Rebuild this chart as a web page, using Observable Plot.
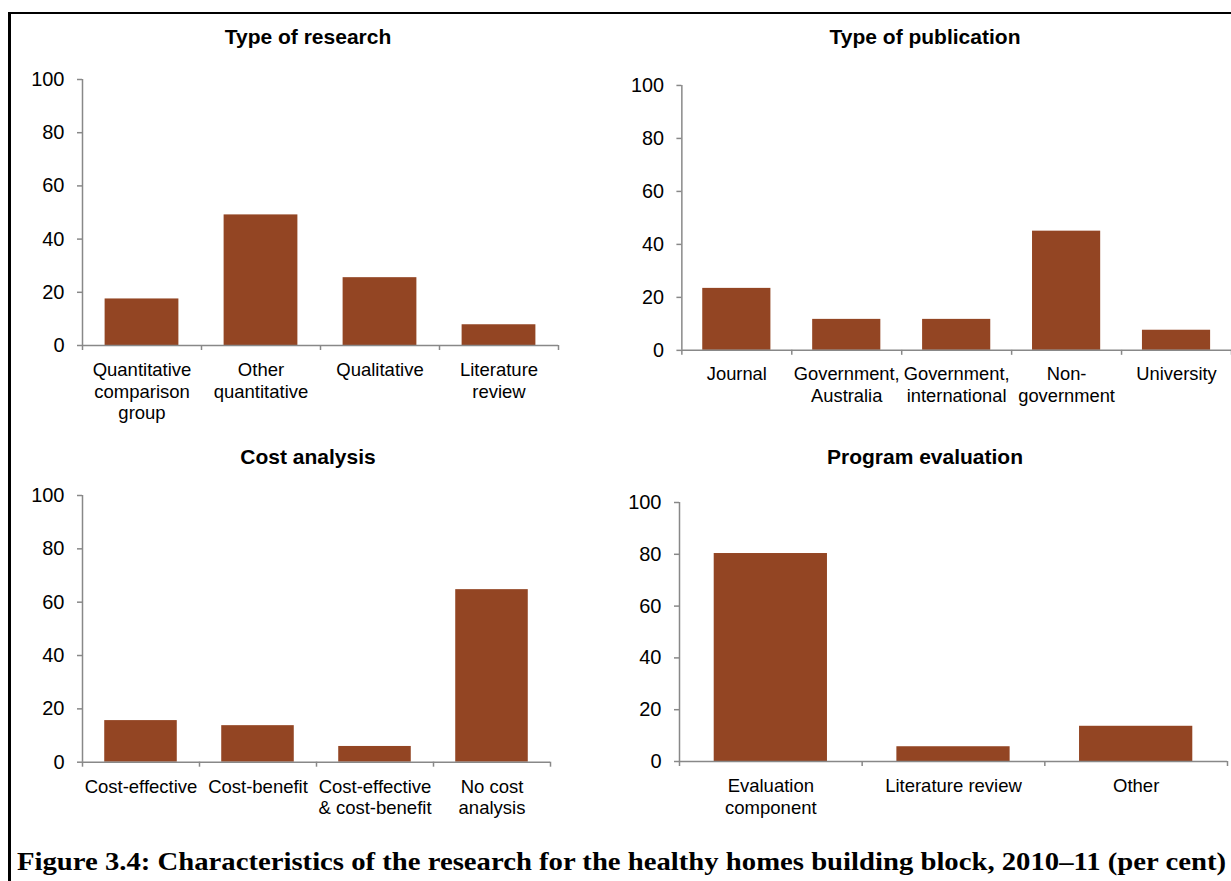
<!DOCTYPE html>
<html>
<head>
<meta charset="utf-8">
<script src="https://cdn.jsdelivr.net/npm/d3@7"></script>
<script src="https://cdn.jsdelivr.net/npm/@observablehq/plot@0.6"></script>
<style>
  html, body { margin: 0; padding: 0; background: #fff; overflow: hidden; }
  #page { position: relative; width: 1231px; height: 881px; overflow: hidden; background: #fff;
          font-family: "Liberation Sans", Arial, sans-serif; }
  .frame { position: absolute; left: 8px; top: 12px; width: 1240px; height: 900px;
           border-left: 3px solid #000; border-top: 2px solid #000; box-sizing: border-box; }
  .title { position: absolute; width: 400px; text-align: center; font-weight: bold;
           font-size: 21px; line-height: 24px; color: #000; }
  .panel { position: absolute; }
  .panel svg { overflow: visible; }
  #caption { position: absolute; left: 0; top: 840px; }
</style>
</head>
<body>
<div id="page">
  <div class="frame"></div>
  <div class="title" style="left:108px; top:25px;">Type of research</div>
  <div class="title" style="left:725px; top:25px;">Type of publication</div>
  <div class="title" style="left:108px; top:445px;">Cost analysis</div>
  <div class="title" style="left:725px; top:445px;">Program evaluation</div>
  <div class="panel" id="p1" style="left:0px; top:60px;"></div>
  <div class="panel" id="p2" style="left:615px; top:60px;"></div>
  <div class="panel" id="p3" style="left:0px; top:480px;"></div>
  <div class="panel" id="p4" style="left:615px; top:480px;"></div>
  <svg id="caption" width="1231" height="41">
    <text x="17" y="30" textLength="1209" lengthAdjust="spacingAndGlyphs"
      style="font-family:'Liberation Serif','Times New Roman',serif; font-weight:bold; font-size:25px; fill:#000;">Figure 3.4: Characteristics of the research for the healthy homes building block, 2010–11 (per cent)</text>
  </svg>
</div>
<script>
// ---- Data ----
const yTicks = [0, 20, 40, 60, 80, 100];

const researchTypes = ["Quantitative comparison group", "Other quantitative", "Qualitative", "Literature review"];
const researchLabels = ["Quantitative\ncomparison\ngroup", "Other\nquantitative", "Qualitative", "Literature\nreview"];
const researchValues = [17.5, 49.1, 25.5, 7.8];

const publicationTypes = ["Journal", "Government, Australia", "Government, international", "Non-government", "University"];
const publicationLabels = ["Journal", "Government,\nAustralia", "Government,\ninternational", "Non-\ngovernment", "University"];
const publicationValues = [23.4, 11.7, 11.7, 45.0, 7.6];

const costTypes = ["Cost-effective", "Cost-benefit", "Cost-effective & cost-benefit", "No cost analysis"];
const costLabels = ["Cost-effective", "Cost-benefit", "Cost-effective\n& cost-benefit", "No cost\nanalysis"];
const costValues = [15.6, 13.7, 5.9, 64.7];

const evaluationTypes = ["Evaluation component", "Literature review", "Other"];
const evaluationLabels = ["Evaluation\ncomponent", "Literature review", "Other"];
const evaluationValues = [80.3, 5.7, 13.6];

// ---- Styles ----
const barColor = "#934523";
const axisGray = "#888888";
const fontFamily = "'Liberation Sans', Arial, sans-serif";

function panel(el, {cats, labels, values, width, height, marginLeft, marginRight, marginTop, marginBottom}) {
  const n = cats.length;
  const step = (width - marginLeft - marginRight) / n;
  const data = cats.map((c, i) => ({category: c, value: values[i]}));
  const labelOf = new Map(cats.map((c, i) => [c, labels[i]]));
  const plot = Plot.plot({
    width, height, marginLeft, marginRight, marginTop, marginBottom,
    style: {background: "transparent", fontFamily, fontSize: "18.5px", color: "#000", overflow: "visible"},
    x: {type: "band", domain: cats, paddingInner: 0.38, paddingOuter: 0.19, round: false, axis: null},
    y: {domain: [0, 100], axis: null},
    marks: [
      Plot.barY(data, {x: "category", y: "value", fill: barColor}),
      Plot.ruleY([0], {stroke: axisGray, strokeWidth: 1.5}),
      Plot.ruleX([cats[0]], {x: d => d, dx: -step / 2, y1: 0, y2: 100, stroke: axisGray, strokeWidth: 1.5}),
      Plot.ruleX(cats, {x: d => d, dx: -step / 2, y1: 0, y2: 0, insetBottom: -5, stroke: axisGray, strokeWidth: 1.5}),
      Plot.ruleX([cats[n - 1]], {x: d => d, dx: step / 2, y1: 0, y2: 0, insetBottom: -5, stroke: axisGray, strokeWidth: 1.5}),
      Plot.axisY({ticks: yTicks, label: null, tickSize: 5, tickPadding: 13, stroke: axisGray, strokeWidth: 1.5,
                  fill: "#000", fontSize: 20, tickFormat: d => String(d)}),
      Plot.text(cats, {x: d => d, text: d => labelOf.get(d), frameAnchor: "bottom", lineAnchor: "top",
                       dy: 15, lineHeight: 1.17, fontSize: 18.5, fill: "#000"})
    ]
  });
  document.getElementById(el).appendChild(plot);
}

panel("p1", {cats: researchTypes, labels: researchLabels, values: researchValues,
  width: 615, height: 360, marginLeft: 82, marginRight: 57, marginTop: 19, marginBottom: 75});
panel("p2", {cats: publicationTypes, labels: publicationLabels, values: publicationValues,
  width: 622, height: 360, marginLeft: 67, marginRight: 0, marginTop: 25.2, marginBottom: 67.3});
panel("p3", {cats: costTypes, labels: costLabels, values: costValues,
  width: 615, height: 360, marginLeft: 82, marginRight: 65, marginTop: 15, marginBottom: 78.3});
panel("p4", {cats: evaluationTypes, labels: evaluationLabels, values: evaluationValues,
  width: 616, height: 360, marginLeft: 64, marginRight: 4, marginTop: 22, marginBottom: 79});
</script>
</body>
</html>
